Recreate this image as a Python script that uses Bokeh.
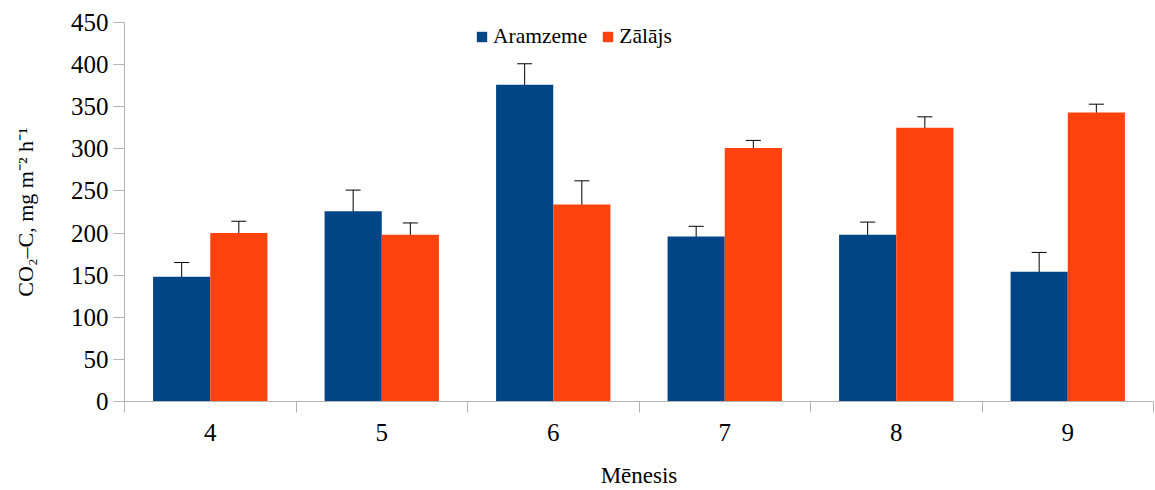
from bokeh.plotting import figure
from bokeh.models import (ColumnDataSource, FactorRange, Range1d, LinearAxis, CategoricalAxis,
                          FixedTicker, Whisker, TeeHead, Legend, LegendItem, SingleIntervalTicker)
from bokeh.transform import dodge
from bokeh.embed import file_html
from bokeh.resources import INLINE

months = ["4", "5", "6", "7", "8", "9"]
aramzeme = [148, 226, 376, 196, 198, 154]
aramzeme_err = [17, 25, 25, 12, 15, 23]
zalajs = [200, 198, 234, 301, 325, 343]
zalajs_err = [14, 14, 28, 9, 13, 10]
series_names = ["Aramzeme", "Zālājs"]
colors = ["#004586", "#ff420e"]
y_title = "CO₂–C, mg m⁻² h⁻¹"
x_title = "Mēnesis"

FONT = "Liberation Serif"
AXIS_GRAY = "#b3b3b3"

src = ColumnDataSource(dict(
    month=months,
    a=aramzeme, a_lo=[v - e for v, e in zip(aramzeme, aramzeme_err)], a_hi=[v + e for v, e in zip(aramzeme, aramzeme_err)],
    z=zalajs, z_lo=[v - e for v, e in zip(zalajs, zalajs_err)], z_hi=[v + e for v, e in zip(zalajs, zalajs_err)],
))

p = figure(x_range=FactorRange(*months, range_padding=0), y_range=Range1d(0, 450),
           width=1154, height=490, output_backend="svg", toolbar_location=None,
           x_axis_location=None, min_border_left=124, min_border_right=1,
           min_border_top=22, min_border_bottom=10)
p.outline_line_color = None
p.xgrid.visible = False
p.ygrid.visible = False
p.background_fill_color = "white"
p.border_fill_color = "white"

ra = p.vbar(x=dodge("month", -1/6, range=p.x_range), top="a", width=1/3, source=src,
            fill_color=colors[0], line_color=None)
rz = p.vbar(x=dodge("month", 1/6, range=p.x_range), top="z", width=1/3, source=src,
            fill_color=colors[1], line_color=None)

for key, off in (("a", -1/6), ("z", 1/6)):
    w = Whisker(base=dodge("month", off, range=p.x_range), upper=key + "_hi", lower=key + "_lo",
                source=src, line_color="black", line_width=1,
                upper_head=TeeHead(size=15, line_color="black", line_width=1),
                lower_head=TeeHead(size=15, line_color="black", line_width=1))
    p.add_layout(w)

# y axis
ya = p.yaxis[0]
ya.ticker = SingleIntervalTicker(interval=50)
ya.axis_line_color = AXIS_GRAY
ya.major_tick_line_color = AXIS_GRAY
ya.major_tick_out = 11
ya.major_tick_in = 0
ya.minor_tick_line_color = None
ya.major_label_text_font = FONT
ya.major_label_text_font_size = "25px"
ya.major_label_text_color = "black"
ya.major_label_standoff = 5
ya.axis_label = y_title
ya.axis_label_text_font = FONT
ya.axis_label_text_font_size = "22px"
ya.axis_label_text_font_style = "normal"
ya.axis_label_text_color = "black"
ya.axis_label_standoff = 30

# x axis: ticks at the category boundaries (synthetic coordinates of the factor range)
tick_axis = LinearAxis(ticker=FixedTicker(ticks=list(range(len(months) + 1))),
                       axis_line_color=AXIS_GRAY, major_tick_line_color=AXIS_GRAY,
                       major_tick_out=11, major_tick_in=0, minor_tick_line_color=None,
                       major_label_text_font_size="0px", major_label_standoff=0,
                       major_label_overrides={i: "" for i in range(len(months) + 1)})
p.add_layout(tick_axis, "below")

label_axis = CategoricalAxis(axis_line_color=None, major_tick_line_color=None,
                             major_label_text_font=FONT, major_label_text_font_size="25px",
                             major_label_text_color="black", major_label_standoff=5,
                             axis_label=x_title, axis_label_text_font=FONT,
                             axis_label_text_font_size="23px", axis_label_text_font_style="normal",
                             axis_label_text_color="black", axis_label_standoff=19)
p.add_layout(label_axis, "below")

legend = Legend(items=[LegendItem(label=series_names[0], renderers=[ra]),
                       LegendItem(label=series_names[1], renderers=[rz])],
                orientation="horizontal", location=(351, 352),
                glyph_width=13, glyph_height=13, label_text_font=FONT,
                label_text_font_size="21.5px", label_text_color="black",
                label_standoff=5, spacing=14, padding=0, margin=0,
                border_line_color=None, background_fill_alpha=0)
p.add_layout(legend)

open("out.html", "w").write(file_html(p, INLINE))
